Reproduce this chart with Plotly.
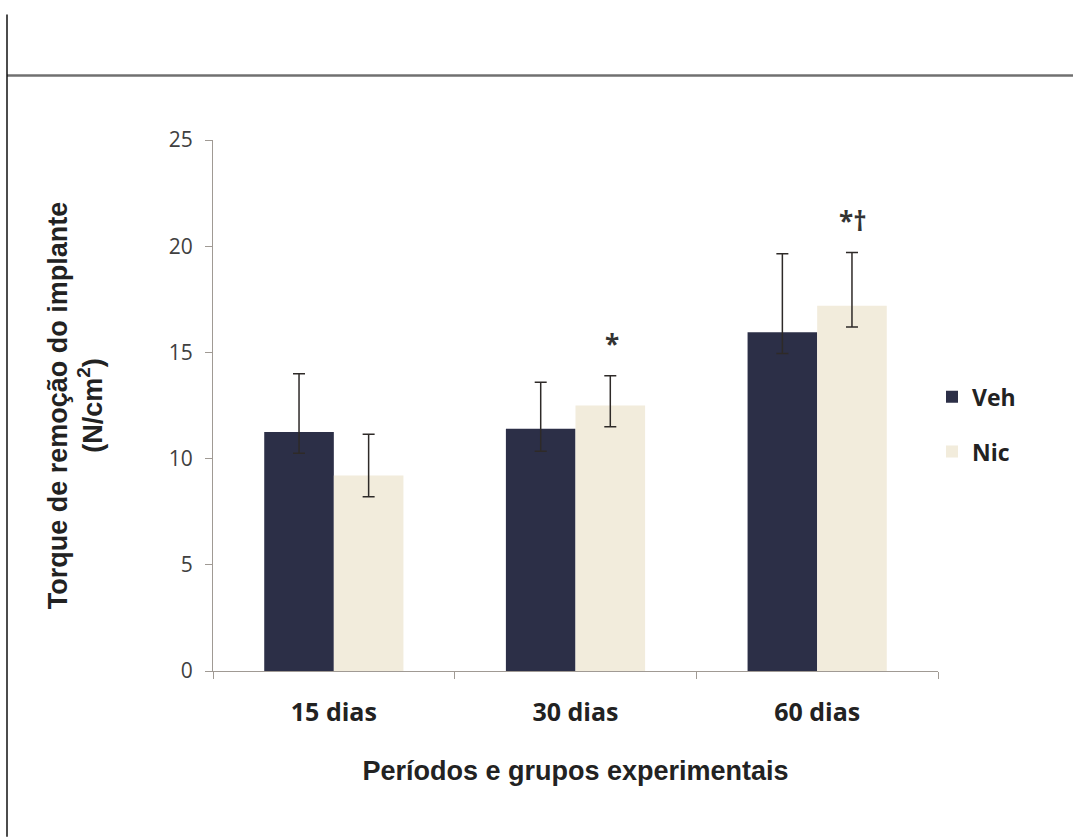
import plotly.graph_objects as go

# Removal torque by period and group
periods = ["15 dias", "30 dias", "60 dias"]
veh_mean = [11.25, 11.4, 15.95]
veh_err_plus = [2.75, 2.2, 3.7]
veh_err_minus = [1.0, 1.05, 1.0]
nic_mean = [9.2, 12.5, 17.2]
nic_err_plus = [1.95, 1.4, 2.5]
nic_err_minus = [1.0, 1.0, 1.0]
marks = ["", "*", "*†"]

VEH_COLOR = "#2c2f47"
NIC_COLOR = "#f2ecdc"
ERR_COLOR = "#2e2a28"
AXIS_COLOR = "#a09a94"

W, H = 1073, 837
L, R, T, B = 213, 135, 139.5, 166
PW, PH = W - L - R, H - T - B


def px_x(px):
    return (px - L) / PW


def px_y(py):
    return (H - B - py) / PH


fig = go.Figure()
fig.add_trace(go.Bar(
    name="Veh", x=periods, y=veh_mean, marker_color=VEH_COLOR,
    marker_line_width=0, legendgroup="veh",
    error_y=dict(type="data", symmetric=False, array=veh_err_plus,
                 arrayminus=veh_err_minus, color=ERR_COLOR,
                 thickness=1.5, width=6),
))
fig.add_trace(go.Bar(
    name="Nic", x=periods, y=nic_mean, marker_color=NIC_COLOR,
    marker_line_width=0, legendgroup="nic",
    error_y=dict(type="data", symmetric=False, array=nic_err_plus,
                 arrayminus=nic_err_minus, color=ERR_COLOR,
                 thickness=1.5, width=6),
))

# significance marks above the Nic bars
for p, m, v, e in zip(periods, marks, nic_mean, nic_err_plus):
    if m:
        fig.add_annotation(
            x=p, y=v + e, xref="x", yref="y", text=m, showarrow=False,
            xshift=36, yshift=12, yanchor="bottom",
            font=dict(family="Open Sans", size=26, color="#333333",
                      weight="bold"),
        )

# page frame lines
fig.add_shape(type="line", xref="paper", yref="paper",
              x0=px_x(7), x1=px_x(1073), y0=px_y(75), y1=px_y(75),
              line=dict(color="#707070", width=2.5))
fig.add_shape(type="line", xref="paper", yref="paper",
              x0=px_x(7), x1=px_x(7), y0=px_y(14), y1=px_y(837),
              line=dict(color="#111111", width=1.5))

fig.update_layout(
    width=W, height=H,
    margin=dict(l=L, r=R, t=T, b=B, autoexpand=False),
    paper_bgcolor="white", plot_bgcolor="white",
    barmode="group", bargap=0.424, bargroupgap=0,
    showlegend=True,
    legend=dict(x=px_x(932), y=px_y(424), xanchor="left", yanchor="middle",
                tracegroupgap=22, itemwidth=30,
                font=dict(family="Open Sans", size=23, color="#222222",
                          weight="bold"),
                bgcolor="rgba(0,0,0,0)"),
    font=dict(family="Open Sans", color="#333333"),
)
fig.update_yaxes(
    range=[0, 25], tickvals=[0, 5, 10, 15, 20, 25],
    showgrid=False, zeroline=False,
    showline=True, linecolor=AXIS_COLOR, linewidth=1.2,
    ticks="outside", ticklen=7, tickcolor=AXIS_COLOR, tickwidth=1.2,
    ticklabelstandoff=8,
    tickfont=dict(family="Open Sans", size=21, color="#404040"),
    title=dict(text="Torque de remoção do implante<br>(N/cm<sup>2</sup>)",
               standoff=58,
               font=dict(family="Liberation Sans", size=27, color="#222222",
                         weight="bold")),
)
fig.update_xaxes(
    showgrid=False, showline=True, linecolor=AXIS_COLOR, linewidth=1.2,
    ticks="outside", tickson="boundaries", ticklen=7, tickcolor=AXIS_COLOR,
    tickwidth=1.2, ticklabelstandoff=19,
    tickfont=dict(family="Open Sans", size=25, color="#222222", weight="bold"),
    title=dict(text="Períodos e grupos experimentais", standoff=34,
               font=dict(family="Liberation Sans", size=27, color="#222222",
                         weight="bold")),
)

fig.write_html("out.html")
